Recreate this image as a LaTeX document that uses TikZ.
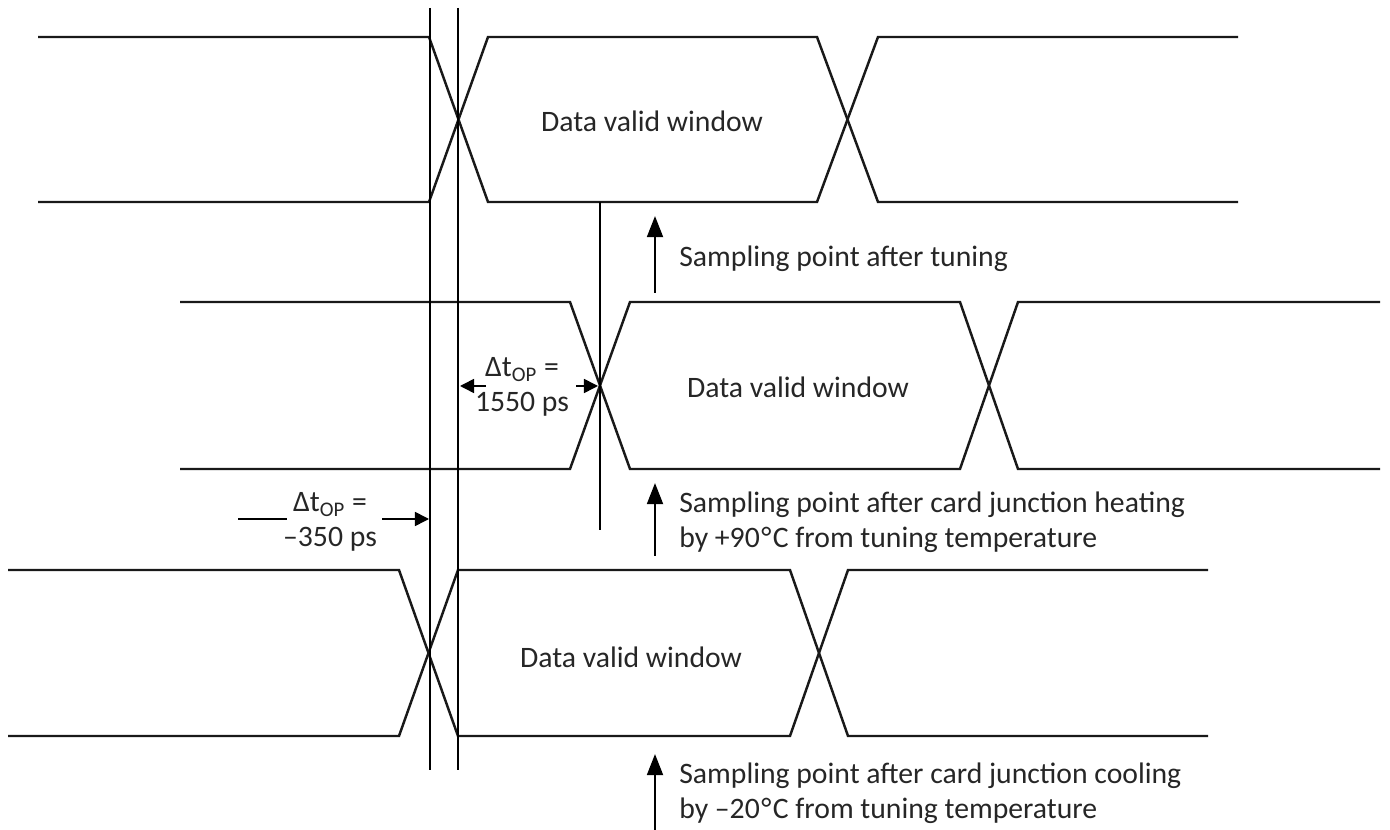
\documentclass[tikz,border=0pt]{standalone}
\usepackage{fontspec}
\setmainfont{Carlito}
\usetikzlibrary{arrows.meta}
\begin{document}
\begin{tikzpicture}[x=0.02cm,y=-0.02cm,
  sig/.style={line width=1.4pt, line join=miter, draw=black!90},
  vline/.style={line width=0.9pt},
  arr/.style={line width=1.4pt, -{Triangle[length=12pt,width=9pt]}},
  darr/.style={line width=0.9pt, -{Triangle[length=8pt,width=8pt]}},
  lbl/.style={font=\fontsize{16.9}{20}\selectfont, text=black!85, inner sep=0pt},
  txt/.style={lbl, anchor=west, align=left}]
\useasboundingbox (0,0) rectangle (1390,830);
% row 1
\draw[sig] (38,37) -- (429,37) -- (488,202) -- (817,202) -- (878,37) -- (1238,37);
\draw[sig] (38,202) -- (429,202) -- (488,37) -- (817,37) -- (878,202) -- (1238,202);
% row 2
\draw[sig] (180,302) -- (570,302) -- (630,469) -- (960,469) -- (1018,302) -- (1380,302);
\draw[sig] (180,469) -- (570,469) -- (630,302) -- (960,302) -- (1018,469) -- (1380,469);
% row 3
\draw[sig] (8,570) -- (399,570) -- (458,736) -- (790,736) -- (848,570) -- (1208,570);
\draw[sig] (8,736) -- (399,736) -- (458,570) -- (790,570) -- (848,736) -- (1208,736);
% vertical reference lines
\coordinate (v1t) at (430,8);  \coordinate (v1b) at (430,770);
\coordinate (v2t) at (458,8);  \coordinate (v2b) at (458,770);
\coordinate (spt) at (600,202); \coordinate (spb) at (600,530);
\draw[vline] (v1t) -- (v1b);
\draw[vline] (v2t) -- (v2b);
\draw[vline] (spt) -- (spb);
% data valid windows
\node[lbl] (w1) at (652,121) {Data valid window};
\node[lbl] (w2) at (798,387) {Data valid window};
\node[lbl] (w3) at (631,657) {Data valid window};
% delta 1550
\node[lbl, align=center] (d1) at (522,387) {Δt\textsubscript{OP} =\\1550 ps};
\coordinate (d1l) at (460,386); \coordinate (d1ls) at (486,386);
\coordinate (d1r) at (598,386); \coordinate (d1rs) at (576,386);
\draw[darr] (d1ls) -- (d1l);
\draw[darr] (d1rs) -- (d1r);
% delta -350
\node[lbl, align=center] (d2) at (330,522) {Δt\textsubscript{OP} =\\–350 ps};
\coordinate (d2a) at (238,519); \coordinate (d2b) at (287,519);
\coordinate (d2c) at (382,519); \coordinate (d2d) at (429,519);
\draw[vline] (d2a) -- (d2b);
\draw[darr] (d2c) -- (d2d);
% sampling arrows
\coordinate (a1b) at (655,293); \coordinate (a1t) at (655,216);
\coordinate (a2b) at (655,556); \coordinate (a2t) at (655,483);
\coordinate (a3b) at (655,830); \coordinate (a3t) at (655,754);
\draw[arr] (a1b) -- (a1t);
\draw[arr] (a2b) -- (a2t);
\draw[arr] (a3b) -- (a3t);
\node[txt] (s1) at (679,259) {Sampling point after tuning};
\node[txt] (s2) at (679,522) {Sampling point after card junction heating\\by +90\kern0.05em°\kern0.05emC from tuning temperature};
\node[txt] (s3) at (679,793) {Sampling point after card junction cooling\\by –20\kern0.05em°\kern0.05emC from tuning temperature};
\end{tikzpicture}
\end{document}
